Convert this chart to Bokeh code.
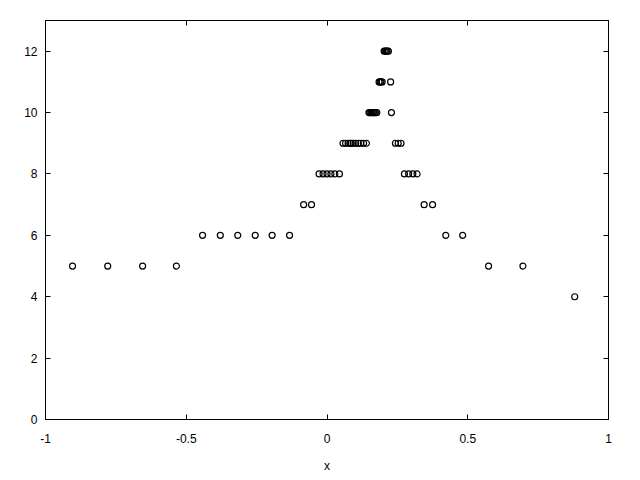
from bokeh.plotting import figure
from bokeh.models import Range1d, FixedTicker, LinearAxis
from bokeh.embed import file_html
from bokeh.resources import INLINE

# Data: x positions of points, grouped by their y level
y_levels = [4, 5, 6, 7, 8, 9, 10, 11, 12]
x_at_4 = [0.880]
x_at_5 = [-0.904, -0.779, -0.655, -0.535, 0.574, 0.696]
x_at_6 = [-0.442, -0.379, -0.317, -0.255, -0.195, -0.133, 0.422, 0.482]
x_at_7 = [-0.083, -0.055, 0.345, 0.375]
x_at_8 = [-0.028, -0.014, 0.000, 0.014, 0.028, 0.044, 0.275, 0.290, 0.305, 0.320]
x_at_9 = [0.057, 0.066, 0.075, 0.082, 0.086, 0.093, 0.102, 0.111, 0.120, 0.130,
          0.140, 0.243, 0.253, 0.263]
x_at_10 = [0.149, 0.153, 0.157, 0.161, 0.165, 0.168, 0.172, 0.177, 0.229]
x_at_11 = [0.185, 0.189, 0.192, 0.196, 0.226]
x_at_12 = [0.203, 0.207, 0.211, 0.214, 0.218]
groups = [x_at_4, x_at_5, x_at_6, x_at_7, x_at_8, x_at_9, x_at_10, x_at_11, x_at_12]

x_ticks = [-1, -0.5, 0, 0.5, 1]
x_tick_labels = ["-1", "-0.5", "0", "0.5", "1"]
y_ticks = [0, 2, 4, 6, 8, 10, 12]
y_tick_labels = ["0", "2", "4", "6", "8", "10", "12"]
x_label = "x"

xs, ys = [], []
for lvl, g in zip(y_levels, groups):
    xs.extend(g)
    ys.extend([lvl] * len(g))

FONT = "Liberation Sans"

p = figure(width=640, height=480, output_backend="svg", toolbar_location=None,
           x_range=Range1d(-1, 1), y_range=Range1d(0, 13),
           min_border_left=45, min_border_right=32, min_border_top=20,
           min_border_bottom=61)
p.background_fill_color = "white"
p.border_fill_color = "white"
p.outline_line_color = "black"
p.outline_line_alpha = 1.0
p.outline_line_width = 1
p.xgrid.visible = False
p.ygrid.visible = False

p.scatter(xs, ys, marker="circle", size=6, fill_color=None,
          line_color="black", line_width=1.2)

def style(ax, ticks, labels, show_labels=True, standoff=8):
    ax.ticker = FixedTicker(ticks=ticks)
    ax.major_label_overrides = {t: l for t, l in zip(ticks, labels)}
    ax.major_tick_in = 5
    ax.major_tick_out = 0
    ax.minor_tick_in = 0
    ax.minor_tick_out = 0
    ax.major_tick_line_color = "black"
    ax.axis_line_color = "black"
    ax.major_label_text_font = FONT
    ax.major_label_text_font_size = "12px" if show_labels else "0px"
    ax.major_label_text_color = "black"
    ax.major_label_standoff = standoff if show_labels else 0

style(p.xaxis[0], x_ticks, x_tick_labels, standoff=14)
style(p.yaxis[0], y_ticks, y_tick_labels, standoff=8)
p.xaxis[0].axis_label = x_label
p.xaxis[0].axis_label_text_font = FONT
p.xaxis[0].axis_label_text_font_size = "12px"
p.xaxis[0].axis_label_text_font_style = "normal"
p.xaxis[0].axis_label_text_color = "black"
p.xaxis[0].axis_label_standoff = 13

top_ax = LinearAxis()
style(top_ax, x_ticks, ["" for _ in x_ticks], show_labels=False)
p.add_layout(top_ax, "above")
right_ax = LinearAxis()
style(right_ax, y_ticks, ["" for _ in y_ticks], show_labels=False)
p.add_layout(right_ax, "right")

open("out.html", "w").write(file_html(p, INLINE))
